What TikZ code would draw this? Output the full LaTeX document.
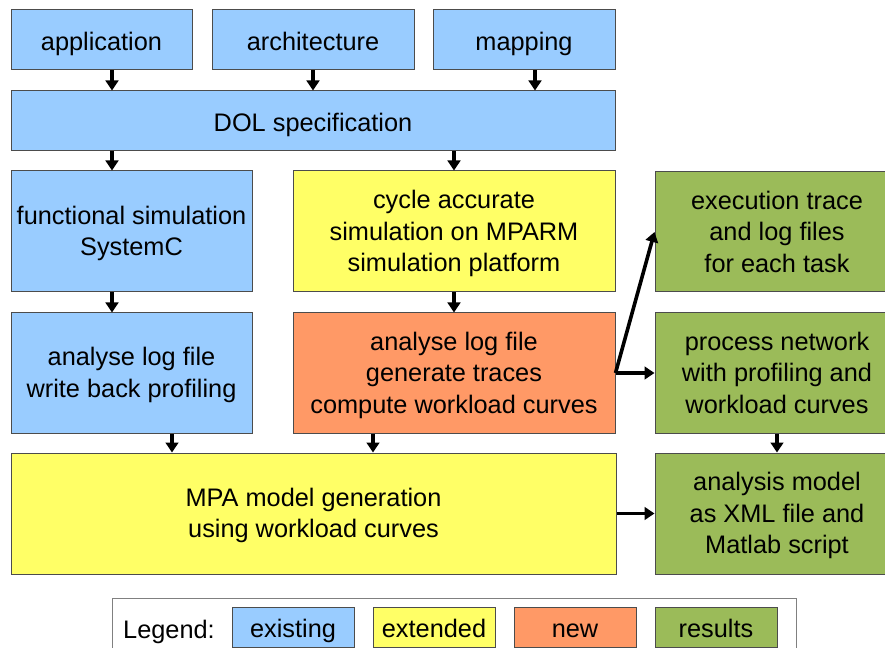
\documentclass[tikz,border=0pt]{standalone}
\usepackage{fontspec}
\setmainfont{Liberation Sans}
\usetikzlibrary{fit,arrows.meta}
\definecolor{existc}{HTML}{99CCFF}
\definecolor{extendc}{HTML}{FFFF66}
\definecolor{newc}{HTML}{FF9966}
\definecolor{resultc}{HTML}{9BBB59}
\begin{document}
\begin{tikzpicture}[x=0.75pt,y=-0.75pt,
  box/.style={draw=black!70, line width=0.75pt, inner sep=0pt},
  lab/.style={inner sep=0pt, align=center, font=\fontsize{19}{23.6}\selectfont,
    yshift=-3.2pt, execute at begin node=\strut, execute at end node=\strut},
  arr/.style={line width=2.7pt, -{Triangle[length=7.5pt,width=9.5pt]}}]
\useasboundingbox (0,0) rectangle (885,648);

% inputs
\node[box, fill=existc, fit={(11,10) (192,70)}] (app) {};
\node[box, fill=existc, fit={(212,10) (414,70)}] (arch) {};
\node[box, fill=existc, fit={(433,10) (615,70)}] (map) {};
\node[box, fill=existc, fit={(11,91) (615,151)}] (dol) {};
\node[lab] (appt) at (app) {application};
\node[lab] (archt) at (arch) {architecture};
\node[lab] (mapt) at (map) {mapping};
\node[lab] (dolt) at (dol) {DOL specification};

% simulation row
\node[box, fill=existc, fit={(11,171) (252,292)}] (func) {};
\node[box, fill=extendc, fit={(293,171) (615,292)}] (cyc) {};
\node[box, fill=resultc, fit={(655,172) (899,292)}] (exec) {};
\node[lab] (funct) at (func) {functional simulation\\SystemC};
\node[lab] (cyct) at (cyc) {cycle accurate\\simulation on MPARM\\simulation platform};
\node[lab] (exect) at (exec) {execution trace\\and log files\\for each task};

% analysis row
\node[box, fill=existc, fit={(11,313) (252,433)}] (alog) {};
\node[box, fill=newc, fit={(293,313) (615,433)}] (orng) {};
\node[box, fill=resultc, fit={(655,313) (899,433)}] (proc) {};
\node[lab] (alogt) at (alog) {analyse log file\\write back profiling};
\node[lab] (orngt) at (orng) {analyse log file\\generate traces\\compute workload curves};
\node[lab] (proct) at (proc) {process network\\with profiling and\\workload curves};

% model row
\node[box, fill=extendc, fit={(11,453) (616,574)}] (mpa) {};
\node[box, fill=resultc, fit={(655,453) (899,574)}] (res) {};
\node[lab] (mpat) at (mpa) {MPA model generation\\using workload curves};
\node[lab] (rest) at (res) {analysis model\\as XML file and\\Matlab script};

% arrow columns
\coordinate (c1) at (112,0);
\coordinate (c2) at (313,0);
\coordinate (c3) at (535,0);
\coordinate (c4) at (454,0);
\coordinate (c5) at (172,0);
\coordinate (c6) at (373,0);

\draw[arr] (app.south -| c1) -- (dol.north -| c1);
\draw[arr] (arch.south -| c2) -- (dol.north -| c2);
\draw[arr] (map.south -| c3) -- (dol.north -| c3);
\draw[arr] (dol.south -| c1) -- (func.north -| c1);
\draw[arr] (dol.south -| c4) -- (cyc.north -| c4);
\draw[arr] (func.south -| c1) -- (alog.north -| c1);
\draw[arr] (cyc.south -| c4) -- (orng.north -| c4);
\draw[arr] (alog.south -| c5) -- (mpa.north -| c5);
\draw[arr] (orng.south -| c6) -- (mpa.north -| c6);
\draw[arr] (orng.east) -- (exec.west);
\draw[arr] (orng.east) -- (proc.west);
\draw[arr] (proc.south) -- (res.north);
\draw[arr] (mpa.east) -- (res.west);

% legend
\node[draw=black!50, line width=0.75pt, fill=white, inner sep=0pt, fit={(112,598) (796,662)}] (legend) {};
\node[lab] (legtitle) at (169,628) {Legend:};
\node[box, fill=existc, fit={(232,607) (354,647)}] (lexist) {};
\node[box, fill=extendc, fit={(373,607) (495,647)}] (lext) {};
\node[box, fill=newc, fit={(514,607) (636,647)}] (lnew) {};
\node[box, fill=resultc, fit={(655,607) (777,647)}] (lres) {};
\node[lab] (lexistt) at (lexist) {existing};
\node[lab] (lextt) at (lext) {extended};
\node[lab] (lnewt) at (lnew) {new};
\node[lab] (lrest) at (lres) {results};
\end{tikzpicture}
\end{document}
